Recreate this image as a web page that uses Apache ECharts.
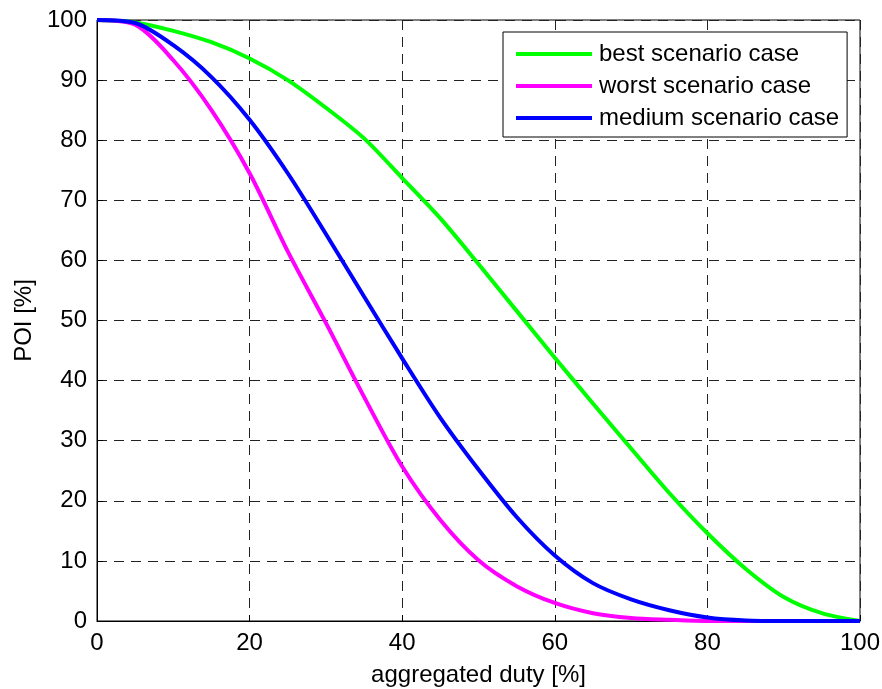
<!DOCTYPE html>
<html>
<head>
<meta charset="utf-8">
<script src="https://cdn.jsdelivr.net/npm/echarts@6/dist/echarts.min.js"></script>
<style>
  html, body { margin: 0; padding: 0; background: #fff; }
  #chart { width: 882px; height: 689px; }
</style>
</head>
<body>
<div id="chart"></div>
<script>
// aggregated duty [%] sample points
const dutyValues = [0, 5, 10, 15, 20, 25, 30, 35, 40, 45, 50, 55, 60, 65, 70, 75, 80, 85, 90, 95, 100];

// POI [%] per scenario
const bestCase = [100, 99.6, 98.2, 96.3, 93.6, 90, 85.4, 80.3, 73.7, 67, 59.4, 51.6, 43.8, 36.2, 28.7, 21.3, 14.6, 8.7, 4, 1.3, 0];
const worstCase = [100, 99.2, 93.3, 85, 74.5, 61.5, 49.6, 37.3, 25.7, 16.8, 10.1, 5.8, 3.0, 1.3, 0.5, 0.2, 0, 0, 0, 0, 0];
const mediumCase = [100, 99.5, 95.8, 90.5, 83.4, 74.5, 64.4, 54, 43.7, 33.8, 25.2, 17.3, 10.9, 6.3, 3.6, 1.8, 0.6, 0.1, 0, 0, 0];

const seriesNames = ['best scenario case', 'worst scenario case', 'medium scenario case'];
const seriesColors = ['#00ff00', '#ff00ff', '#0000ff'];

const chart = echarts.init(document.getElementById('chart'));

function toPairs(values) {
  return dutyValues.map((x, i) => [x, values[i]]);
}

const gridLine = {
  show: true,
  lineStyle: { color: '#222', width: 1, type: [10, 7] }
};

const option = {
  backgroundColor: '#fff',
  animation: false,
  textStyle: { fontFamily: 'Liberation Sans, Arial, sans-serif' },
  grid: {
    left: 97,
    right: 22,
    top: 20,
    bottom: 68,
    outerBoundsMode: 'none',
    show: true,
    borderColor: '#000',
    borderWidth: 1
  },
  legend: {
    orient: 'vertical',
    left: 503,
    top: 32,
    data: seriesNames,
    icon: 'rect',
    itemWidth: 76,
    itemHeight: 4,
    itemGap: 8,
    padding: [10, 8, 7, 13],
    backgroundColor: '#fff',
    borderColor: '#000',
    borderWidth: 1,
    borderRadius: 0,
    textStyle: { fontSize: 24, color: '#000', padding: [0, 0, 0, 2] }
  },
  xAxis: {
    type: 'value',
    min: 0,
    max: 100,
    interval: 20,
    name: 'aggregated duty [%]',
    nameLocation: 'middle',
    nameGap: 42,
    nameTextStyle: { fontSize: 24, color: '#000' },
    axisLine: { lineStyle: { color: '#000', width: 1 } },
    axisTick: { inside: true, length: 6, lineStyle: { color: '#000' } },
    axisLabel: { fontSize: 24, color: '#000', margin: 10 },
    splitLine: gridLine
  },
  yAxis: {
    type: 'value',
    min: 0,
    max: 100,
    interval: 10,
    name: 'POI [%]',
    nameLocation: 'middle',
    nameGap: 61,
    nameTextStyle: { fontSize: 24, color: '#000' },
    axisLine: { show: true, lineStyle: { color: '#000', width: 1 } },
    axisTick: { show: true, inside: true, length: 6, lineStyle: { color: '#000' } },
    axisLabel: { fontSize: 24, color: '#000', margin: 10 },
    splitLine: gridLine
  },
  series: [bestCase, worstCase, mediumCase].map((values, i) => ({
    name: seriesNames[i],
    type: 'line',
    data: toPairs(values),
    smooth: 0.3,
    showSymbol: false,
    z: i === 2 ? 4 : 3,
    lineStyle: { color: seriesColors[i], width: 4 },
    itemStyle: { color: seriesColors[i] }
  }))
};

chart.setOption(option);
</script>
</body>
</html>
